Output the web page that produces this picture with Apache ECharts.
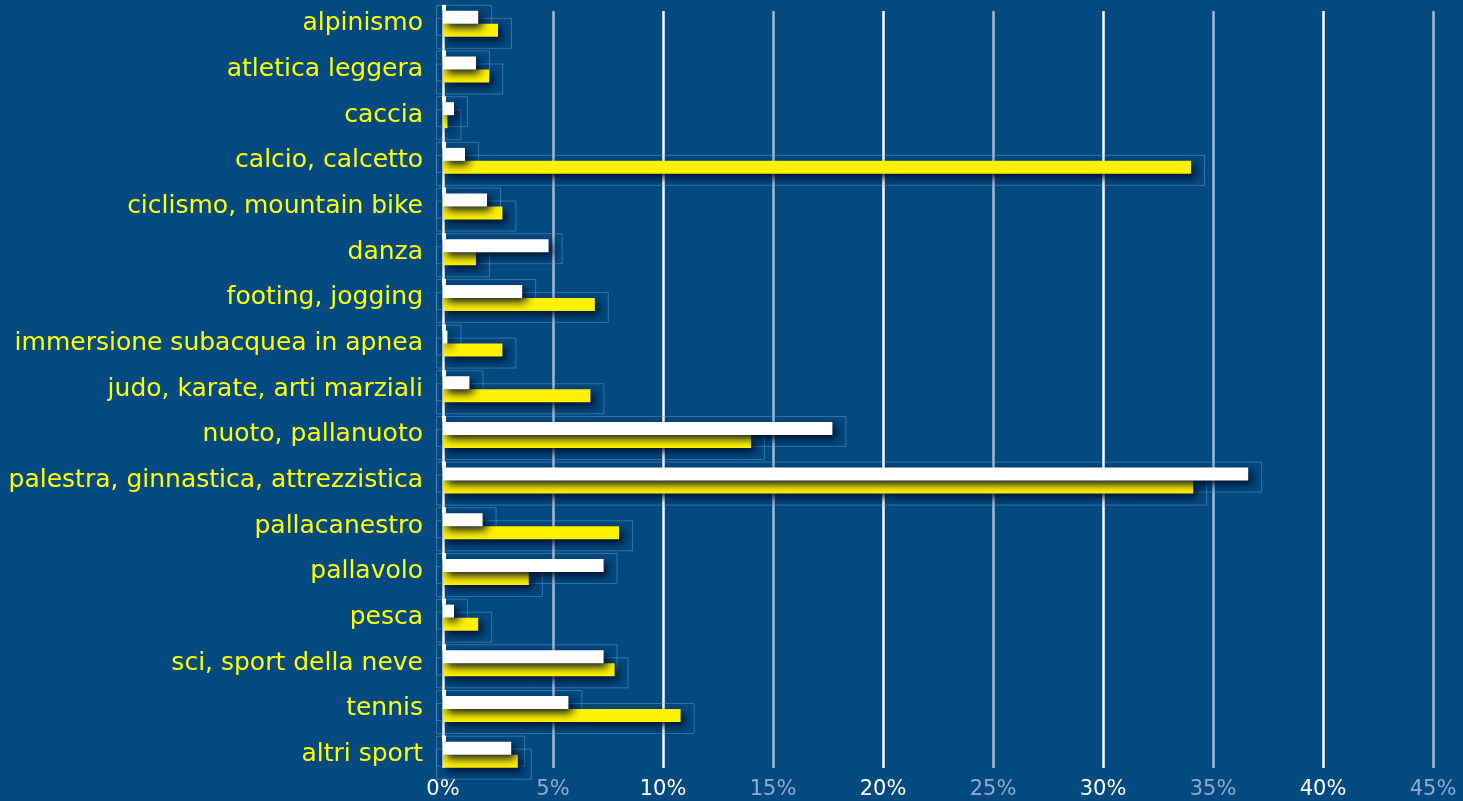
<!DOCTYPE html>
<html>
<head>
<meta charset="utf-8">
<script src="https://cdn.jsdelivr.net/npm/echarts@6/dist/echarts.min.js"></script>
<style>
  html, body { margin: 0; padding: 0; background: #024a80; }
  #chart { width: 1463px; height: 801px; }
</style>
</head>
<body>
<div id="chart"></div>
<script>
// Sport categories, top to bottom
const categories = [
  'alpinismo', 'atletica leggera', 'caccia', 'calcio, calcetto',
  'ciclismo, mountain bike', 'danza', 'footing, jogging',
  'immersione subacquea in apnea', 'judo, karate, arti marziali',
  'nuoto, pallanuoto', 'palestra, ginnastica, attrezzistica',
  'pallacanestro', 'pallavolo', 'pesca', 'sci, sport della neve',
  'tennis', 'altri sport'
];

// Share (%) per sport, white series
const whiteValues = [1.6, 1.5, 0.5, 1.0, 2.0, 4.8, 3.6, 0.2, 1.2, 17.7, 36.6, 1.8, 7.3, 0.5, 7.3, 5.7, 3.1];
// Share (%) per sport, yellow series
const yellowValues = [2.5, 2.1, 0.2, 34.0, 2.7, 1.5, 6.9, 2.7, 6.7, 14.0, 34.1, 8.0, 3.9, 1.6, 7.8, 10.8, 3.4];

// Value axis ticks (%)
const tickMin = 0;
const tickMax = 45;
const tickStep = 5;

const BAR = 13;
const BG = '#024a80';
const YELLOW = '#fff200';
const TICK_COLORS = ['#ffffff', '#93aacb'];
const FONT = 'DejaVu Sans';

const chart = echarts.init(document.getElementById('chart'), null, { renderer: 'canvas' });

// Faint frame behind each bar, plus the small notch above the white bars
function frameSeries(name, values, side, z) {
  return {
    name: name,
    type: 'custom',
    xAxisIndex: 0,
    yAxisIndex: 0,
    z: z,
    silent: true,
    data: values.map((v, i) => [v, i]),
    renderItem: function (params, api) {
      const v = api.value(0);
      const c = api.value(1);
      const p0 = api.coord([0, c]);
      const p1 = api.coord([v, c]);
      const top = side < 0 ? p0[1] - BAR : p0[1];
      const children = [{
        type: 'rect',
        shape: { x: p0[0] - 6.5, y: top - 5.5, width: p1[0] - p0[0] + 20, height: BAR + 17 },
        style: { fill: 'none', stroke: 'rgba(120,165,215,0.45)', lineWidth: 1 }
      }];
      if (side < 0) {
        children.push({
          type: 'rect',
          shape: { x: p0[0] - 1, y: top - 6, width: 4, height: 6 },
          style: { fill: '#ffffff' }
        });
      }
      return { type: 'group', children: children };
    }
  };
}

const option = {
  backgroundColor: BG,
  animation: false,
  grid: [
    // bars
    { left: 443, right: 30, top: 1, bottom: 23.5, containLabel: false },
    // grid lines and percentage labels
    { left: 443, right: 30, top: 11, bottom: 33, containLabel: false }
  ],
  xAxis: [
    {
      gridIndex: 0, type: 'value', min: tickMin, max: tickMax, interval: tickStep,
      axisLine: { show: false }, axisTick: { show: false },
      axisLabel: { show: false }, splitLine: { show: false }
    },
    {
      gridIndex: 1, type: 'value', min: tickMin, max: tickMax, interval: tickStep,
      axisLine: { show: false }, axisTick: { show: false },
      splitLine: { show: true, lineStyle: { color: ['#ffffff', '#a6b8d4'], width: 2.5 } },
      axisLabel: {
        show: true, margin: 11, fontFamily: FONT, fontSize: 21,
        formatter: '{value}%',
        color: function (value, index) { return TICK_COLORS[Math.round(value / tickStep) % 2]; }
      }
    }
  ],
  yAxis: [
    {
      gridIndex: 0, type: 'category', data: categories, inverse: true,
      axisLine: { show: false }, axisTick: { show: false },
      splitLine: { show: false },
      axisLabel: { color: '#ffff00', fontFamily: FONT, fontSize: 25, margin: 20 }
    },
    {
      gridIndex: 1, type: 'value', min: 0, max: 1, show: false
    }
  ],
  series: [
    frameSeries('frameYellow', yellowValues, 1, 1),
    frameSeries('frameWhite', whiteValues, -1, 1),
    {
      name: 'white', type: 'bar', xAxisIndex: 0, yAxisIndex: 0, z: 3,
      barWidth: BAR, barGap: '0%',
      data: whiteValues,
      itemStyle: {
        color: '#ffffff',
        shadowColor: 'rgba(0,12,40,0.95)', shadowBlur: 9, shadowOffsetX: 4, shadowOffsetY: 4
      }
    },
    {
      name: 'yellow', type: 'bar', xAxisIndex: 0, yAxisIndex: 0, z: 2,
      barWidth: BAR, barGap: '0%',
      data: yellowValues,
      itemStyle: {
        color: YELLOW,
        shadowColor: 'rgba(0,12,40,0.95)', shadowBlur: 9, shadowOffsetX: 4, shadowOffsetY: 4
      }
    }
  ]
};

chart.setOption(option);
</script>
</body>
</html>
